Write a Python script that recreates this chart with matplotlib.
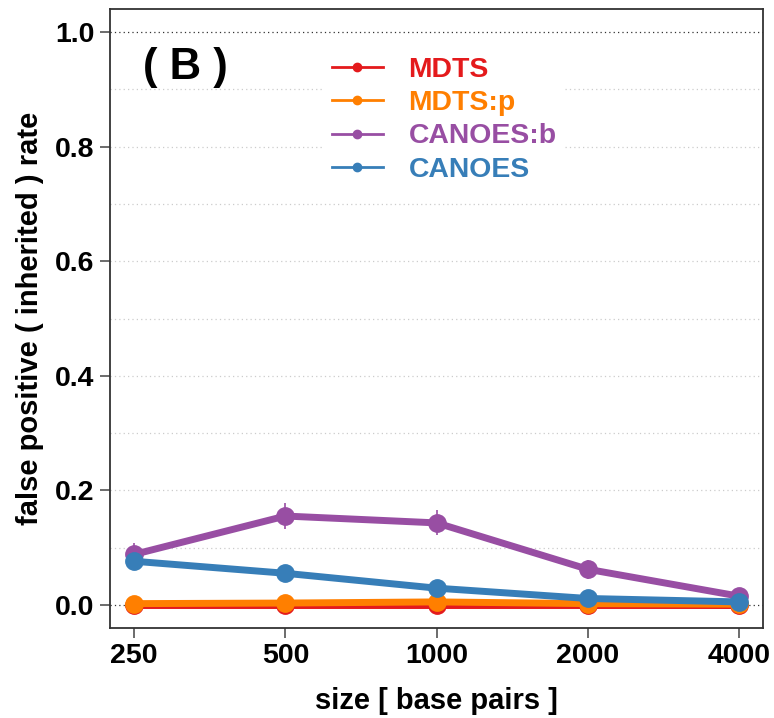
import numpy as np
import matplotlib
matplotlib.use('Agg')
import matplotlib.pyplot as plt
from matplotlib.lines import Line2D

plt.rcParams['font.family'] = ['Liberation Sans', 'DejaVu Sans']
plt.rcParams['font.weight'] = 'bold'

sizes = [250, 500, 1000, 2000, 4000]
size_labels = ['250', '500', '1000', '2000', '4000']

methods = ['MDTS', 'MDTS:p', 'CANOES:b', 'CANOES']
colors = ['#E41A1C', '#FF7F00', '#984EA3', '#377EB8']

mdts = [0.000, 0.000, 0.000, 0.000, 0.000]
mdts_p = [0.002, 0.003, 0.005, 0.002, 0.001]
canoes_b = [0.088, 0.155, 0.143, 0.062, 0.015]
canoes = [0.076, 0.055, 0.029, 0.011, 0.005]

mdts_err = [0.001, 0.001, 0.001, 0.001, 0.001]
mdts_p_err = [0.003, 0.003, 0.004, 0.002, 0.001]
canoes_b_err = [0.020, 0.023, 0.022, 0.017, 0.008]
canoes_err = [0.016, 0.012, 0.008, 0.005, 0.003]

values = [mdts, mdts_p, canoes_b, canoes]
errors = [mdts_err, mdts_p_err, canoes_b_err, canoes_err]

fig = plt.figure(figsize=(7.74, 7.18), dpi=100)
ax = fig.add_axes([0.1421, 0.1258, 0.8441, 0.8612])

x = np.log2(sizes)

# grid: light dotted every 0.1, darker at 0 and 1
for g in np.arange(0.1, 0.95, 0.1):
    ax.axhline(g, color='#cccccc', lw=0.9, ls=(0, (1, 2.5)), zorder=0)
for g in [0.0, 1.0]:
    ax.axhline(g, color='#333333', lw=0.9, ls=(0, (1, 2.5)), zorder=0)

for vals, errs, c in zip(values, errors, colors):
    ax.errorbar(x, vals, yerr=errs, color=c, lw=5, marker='o', ms=12.5,
                elinewidth=1.2, capsize=0, zorder=3)

ax.set_xlim(x[0] - 0.16, x[-1] + 0.16)
ax.set_ylim(-0.04, 1.04)
ax.set_xticks(x)
ax.set_xticklabels(size_labels)
ax.set_yticks([0.0, 0.2, 0.4, 0.6, 0.8, 1.0])
ax.set_yticklabels(['0.0', '0.2', '0.4', '0.6', '0.8', '1.0'])
ax.tick_params(labelsize=20.5, length=7, width=1.1, color='#444444', pad=4)
for s in ax.spines.values():
    s.set_color('#333333')
    s.set_linewidth(1.3)

ax.set_xlabel('size [ base pairs ]', fontsize=21, fontweight='bold', labelpad=13)
ax.set_ylabel('false positive ( inherited ) rate', fontsize=21, fontweight='bold', labelpad=8)

ax.text(0.05, 0.906, '( B )', transform=ax.transAxes, fontsize=31.5,
        fontweight='bold', va='center', ha='left')

handles = [Line2D([], [], color=c, lw=2, marker='o', ms=6) for c in colors]
leg = ax.legend(handles, methods, loc='upper left', bbox_to_anchor=(0.305, 0.96),
                frameon=True, facecolor='white', edgecolor='none', framealpha=1,
                fontsize=20.4, handlelength=1.8, handletextpad=0.9, labelspacing=0.26,
                borderpad=0.3)
for t, c in zip(leg.get_texts(), colors):
    t.set_color(c)
    t.set_fontweight('bold')

fig.savefig('out.png', dpi=100)
